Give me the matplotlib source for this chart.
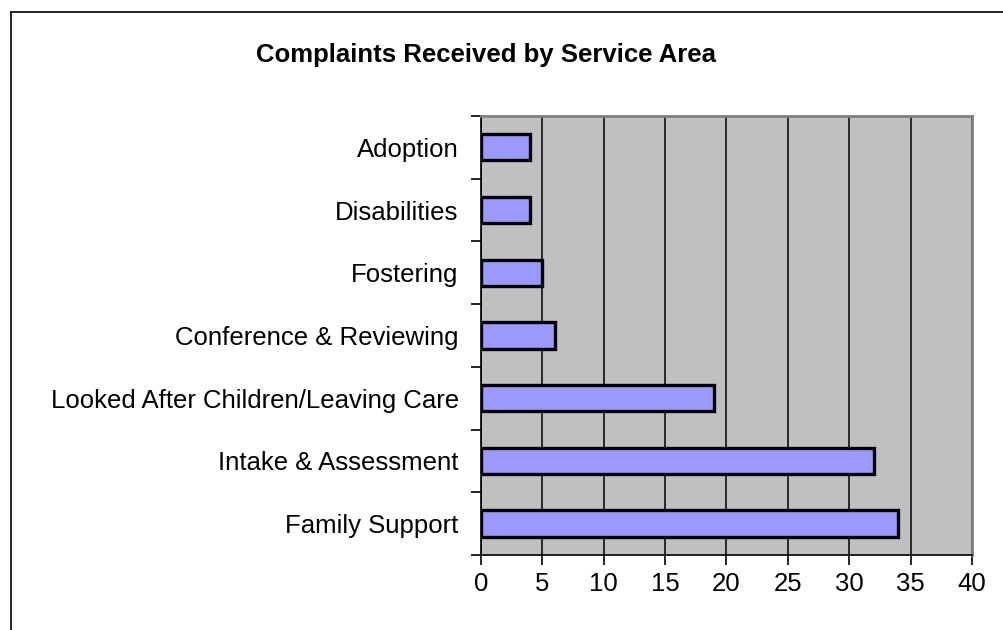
import matplotlib.pyplot as plt
from matplotlib.lines import Line2D

plt.rcParams['font.family'] = ['Liberation Sans', 'DejaVu Sans']

# Datos (de arriba hacia abajo)
areas = ['Adoption', 'Disabilities', 'Fostering', 'Conference & Reviewing',
         'Looked After Children/Leaving Care', 'Intake & Assessment', 'Family Support']
complaints = [4, 4, 5, 6, 19, 32, 34]
x_ticks = [0, 5, 10, 15, 20, 25, 30, 35, 40]

fig = plt.figure(figsize=(10.04, 6.3), dpi=100)
ax = fig.add_axes([0.479, 0.119, 0.489, 0.697])

pos = list(range(len(areas)))[::-1]
ax.barh(pos, complaints, height=0.42, color='#9999FF', edgecolor='black', linewidth=2.4, zorder=3)

ax.set_facecolor('#C0C0C0')
ax.set_xlim(0, 40)
ax.set_ylim(-0.5, len(areas) - 0.5)
ax.set_xticks(x_ticks)
ax.set_xticklabels([str(t) for t in x_ticks], fontsize=18.5)
ax.set_yticks([-0.5 + i for i in range(len(areas) + 1)])
ax.set_yticklabels([])
ax.set_yticks(pos, minor=True)
ax.set_yticklabels(areas, minor=True, fontsize=18.5)
ax.tick_params(axis='y', which='minor', length=0, pad=16)
ax.tick_params(axis='y', which='major', length=7, width=1.2, direction='out')
ax.tick_params(axis='x', length=7, width=1.2, direction='out', pad=5)

ax.xaxis.grid(True, color='black', linewidth=1.1, zorder=1)
ax.set_axisbelow(True)

for s in ['top', 'right']:
    ax.spines[s].set_color('#808080')
    ax.spines[s].set_linewidth(2)
for s in ['left', 'bottom']:
    ax.spines[s].set_color('black')
    ax.spines[s].set_linewidth(1.2)

fig.text(0.4836, 0.912, 'Complaints Received by Service Area', fontsize=18.5,
         fontweight='bold', ha='center', va='center')

# Borde exterior del gráfico (solo arriba e izquierda visibles)
fig.add_artist(Line2D([11 / 1004, 1], [1 - 12 / 630, 1 - 12 / 630], color='black', linewidth=1.2))
fig.add_artist(Line2D([11 / 1004, 11 / 1004], [0, 1 - 12 / 630], color='black', linewidth=1.2))

plt.savefig('out.png', dpi=100)
plt.close()
